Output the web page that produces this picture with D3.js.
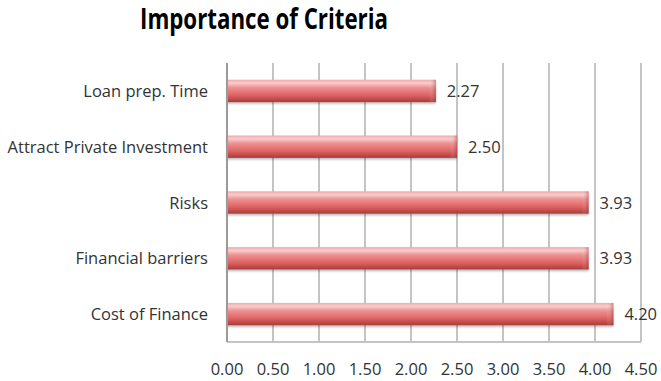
<!DOCTYPE html>
<html>
<head>
<meta charset="utf-8">
<script src="https://cdn.jsdelivr.net/npm/d3@7"></script>
<style>
  html, body { margin: 0; padding: 0; background: #fff; }
  svg { display: block; }
  text { font-family: "Open Sans", Lato, sans-serif; }
</style>
</head>
<body>
<svg id="chart" width="661" height="381"></svg>
<script>
// Criteria and their mean importance scores (top to bottom)
const categories = ["Loan prep. Time", "Attract Private Investment", "Risks", "Financial barriers", "Cost of Finance"];
const scores = [2.27, 2.50, 3.93, 3.93, 4.20];
const tickValues = [0, 0.5, 1, 1.5, 2, 2.5, 3, 3.5, 4, 4.5];
const chartTitle = "Importance of Criteria";

const svg = d3.select("#chart");
const margin = { left: 227, right: 20, top: 63, bottom: 39 };
const W = 661, H = 381;
const labelSize = 16.5;

const x = d3.scaleLinear().domain([0, 4.5]).range([margin.left, W - margin.right]);
const y = d3.scaleBand().domain(categories).range([margin.top, H - margin.bottom]).paddingInner(0.6).paddingOuter(0.3);

// Cylinder-like shading for the bars
const defs = svg.append("defs");
const grad = defs.append("linearGradient").attr("id", "barGrad").attr("x1", 0).attr("y1", 0).attr("x2", 0).attr("y2", 1);
[["0%", "#f2a9a9"], ["15%", "#f9cccc"], ["35%", "#ee9191"], ["70%", "#de6262"], ["100%", "#a93b3b"]]
  .forEach(([o, c]) => grad.append("stop").attr("offset", o).attr("stop-color", c));
const capGrad = defs.append("linearGradient").attr("id", "capGrad").attr("x1", 0).attr("y1", 0).attr("x2", 1).attr("y2", 0);
[["0%", "rgba(255,255,255,0)"], ["100%", "rgba(140,35,35,0.4)"]]
  .forEach(([o, c]) => capGrad.append("stop").attr("offset", o).attr("stop-color", c));
const shadow = defs.append("filter").attr("id", "barShadow").attr("x", "-5%").attr("y", "-20%").attr("width", "110%").attr("height", "160%");
shadow.append("feDropShadow").attr("dx", 0).attr("dy", 1.5).attr("stdDeviation", 1.2).attr("flood-color", "#000").attr("flood-opacity", 0.3);

// Title
svg.append("text")
  .attr("x", 264).attr("y", 29)
  .attr("text-anchor", "middle")
  .attr("font-family", "Lato, sans-serif")
  .attr("font-size", 28).attr("font-weight", "bold")
  .attr("fill", "#000")
  .attr("textLength", 248).attr("lengthAdjust", "spacingAndGlyphs")
  .text(chartTitle);

// Vertical gridlines
svg.append("g").selectAll("line").data(tickValues.slice(1)).join("line")
  .attr("x1", d => x(d)).attr("x2", d => x(d))
  .attr("y1", margin.top).attr("y2", H - margin.bottom)
  .attr("stroke", "#c4c4c4").attr("stroke-width", 2);

// Bottom axis line
svg.append("line")
  .attr("x1", margin.left).attr("x2", x(4.5))
  .attr("y1", H - margin.bottom).attr("y2", H - margin.bottom)
  .attr("stroke", "#c4c4c4").attr("stroke-width", 2);

// X tick labels
svg.append("g").selectAll("text").data(tickValues).join("text")
  .attr("x", d => x(d)).attr("y", 375)
  .attr("text-anchor", "middle")
  .attr("font-size", labelSize).attr("fill", "#333")
  .text(d => d.toFixed(2));

// Bars
const bars = svg.append("g");
bars.selectAll("rect.bar").data(categories).join("rect")
  .attr("class", "bar")
  .attr("x", x(0)).attr("y", d => y(d))
  .attr("width", (d, i) => x(scores[i]) - x(0))
  .attr("height", y.bandwidth())
  .attr("fill", "url(#barGrad)")
  .attr("filter", "url(#barShadow)");
// Bevelled end caps
bars.selectAll("rect.cap").data(categories).join("rect")
  .attr("class", "cap")
  .attr("x", (d, i) => x(scores[i]) - 7).attr("y", d => y(d))
  .attr("width", 7).attr("height", y.bandwidth())
  .attr("fill", "url(#capGrad)");

// Left axis line
svg.append("line")
  .attr("x1", margin.left).attr("x2", margin.left)
  .attr("y1", margin.top).attr("y2", H - margin.bottom)
  .attr("stroke", "#9a9a9a").attr("stroke-width", 2);

// Category labels
svg.append("g").selectAll("text").data(categories).join("text")
  .attr("x", 208).attr("y", d => y(d) + y.bandwidth() / 2 + 6)
  .attr("text-anchor", "end")
  .attr("font-size", labelSize).attr("fill", "#333")
  .text(d => d);

// Value labels
svg.append("g").selectAll("text").data(categories).join("text")
  .attr("x", (d, i) => x(scores[i]) + 11).attr("y", d => y(d) + y.bandwidth() / 2 + 6)
  .attr("font-size", labelSize).attr("fill", "#333")
  .text((d, i) => scores[i].toFixed(2));
</script>
</body>
</html>
